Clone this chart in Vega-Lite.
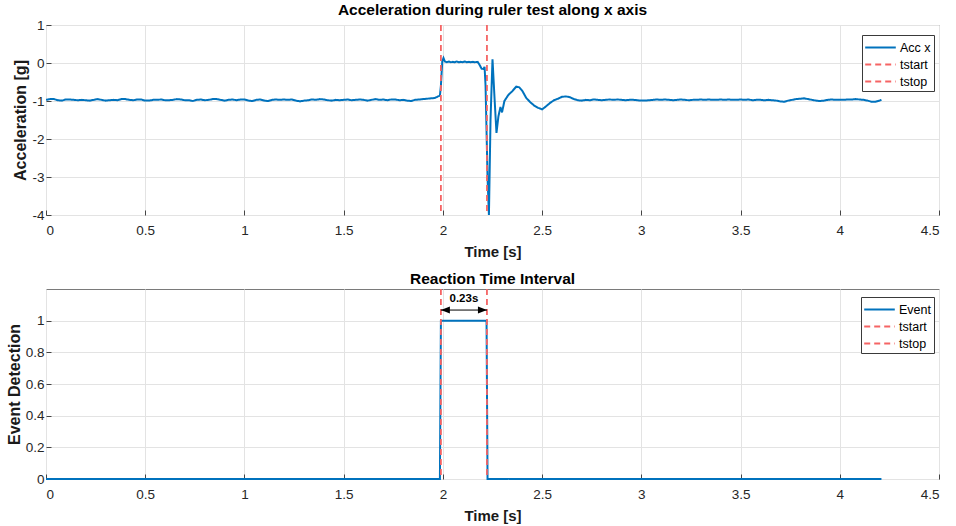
{
  "$schema": "https://vega.github.io/schema/vega-lite/v6.json",
  "background": "white",
  "padding": {"left": 5, "top": 2, "right": 15, "bottom": 5},
  "bounds": "flush",
  "spacing": 74,
  "config": {
    "font": "Liberation Sans",
    "view": {"stroke": "#7a7a7a", "strokeWidth": 1},
    "axis": {
      "labelFont": "Liberation Sans", "labelFontSize": 13.5, "labelColor": "#262626",
      "titleFont": "Liberation Sans", "titleFontWeight": "bold", "titleColor": "#1a1a1a",
      "gridColor": "#e3e3e3", "gridWidth": 1, "domain": false, "labelOverlap": false,
      "tickColor": "#444444", "tickSize": -5,
      "labelExpr": "replace(datum.label, '\u2212', '-')"
    },
    "axisX": {"titlePadding": 8, "labelPadding": 13, "titleFontSize": 15},
    "axisY": {"titlePadding": 3, "labelPadding": 7, "titleFontSize": 16},
    "title": {"font": "Liberation Sans", "fontSize": 15.5, "fontWeight": "bold", "color": "#000000", "offset": 1},
    "legend": {
      "labelFont": "Liberation Sans", "labelFontSize": 12.5, "labelColor": "#000000",
      "fillColor": "white", "strokeColor": "#3a3a3a", "padding": 3,
      "symbolType": "M-1.8,0H1.8", "symbolSize": 289, "symbolStrokeWidth": 2, "symbolOffset": 6, "labelOffset": 10, "rowPadding": 1
    }
  },
  "resolve": {"scale": {"color": "independent", "strokeDash": "independent"}},
  "vconcat": [
    {
      "width": 893, "height": 190,
      "title": {"text": "Acceleration during ruler test along x axis", "offset": 0},
      "layer": [
        {
          "data": {"values": [
            {"time":0.00,"acc":-0.97,"series":"Acc x"},{"time":0.02,"acc":-0.95,"series":"Acc x"},{"time":0.04,"acc":-0.95,"series":"Acc x"},{"time":0.06,"acc":-0.98,"series":"Acc x"},{"time":0.08,"acc":-0.99,"series":"Acc x"},{"time":0.10,"acc":-0.96,"series":"Acc x"},{"time":0.12,"acc":-0.96,"series":"Acc x"},{"time":0.14,"acc":-0.97,"series":"Acc x"},{"time":0.16,"acc":-0.98,"series":"Acc x"},{"time":0.18,"acc":-0.97,"series":"Acc x"},
            {"time":0.20,"acc":-0.98,"series":"Acc x"},{"time":0.22,"acc":-0.99,"series":"Acc x"},{"time":0.24,"acc":-0.97,"series":"Acc x"},{"time":0.26,"acc":-0.95,"series":"Acc x"},{"time":0.28,"acc":-0.97,"series":"Acc x"},{"time":0.30,"acc":-0.99,"series":"Acc x"},{"time":0.32,"acc":-0.98,"series":"Acc x"},{"time":0.34,"acc":-0.97,"series":"Acc x"},{"time":0.36,"acc":-0.98,"series":"Acc x"},{"time":0.38,"acc":-0.95,"series":"Acc x"},
            {"time":0.40,"acc":-0.95,"series":"Acc x"},{"time":0.42,"acc":-0.97,"series":"Acc x"},{"time":0.44,"acc":-0.98,"series":"Acc x"},{"time":0.46,"acc":-0.96,"series":"Acc x"},{"time":0.48,"acc":-0.96,"series":"Acc x"},{"time":0.50,"acc":-0.99,"series":"Acc x"},{"time":0.52,"acc":-0.99,"series":"Acc x"},{"time":0.54,"acc":-0.97,"series":"Acc x"},{"time":0.56,"acc":-0.97,"series":"Acc x"},{"time":0.58,"acc":-0.96,"series":"Acc x"},
            {"time":0.60,"acc":-0.98,"series":"Acc x"},{"time":0.62,"acc":-0.98,"series":"Acc x"},{"time":0.64,"acc":-0.97,"series":"Acc x"},{"time":0.66,"acc":-0.95,"series":"Acc x"},{"time":0.68,"acc":-0.96,"series":"Acc x"},{"time":0.70,"acc":-0.98,"series":"Acc x"},{"time":0.72,"acc":-0.98,"series":"Acc x"},{"time":0.74,"acc":-1.00,"series":"Acc x"},{"time":0.76,"acc":-0.97,"series":"Acc x"},{"time":0.78,"acc":-0.96,"series":"Acc x"},
            {"time":0.80,"acc":-0.98,"series":"Acc x"},{"time":0.82,"acc":-0.97,"series":"Acc x"},{"time":0.84,"acc":-0.95,"series":"Acc x"},{"time":0.86,"acc":-0.95,"series":"Acc x"},{"time":0.88,"acc":-0.97,"series":"Acc x"},{"time":0.90,"acc":-0.99,"series":"Acc x"},{"time":0.92,"acc":-0.97,"series":"Acc x"},{"time":0.94,"acc":-0.96,"series":"Acc x"},{"time":0.96,"acc":-0.98,"series":"Acc x"},{"time":0.98,"acc":-0.96,"series":"Acc x"},
            {"time":1.00,"acc":-0.96,"series":"Acc x"},{"time":1.02,"acc":-0.99,"series":"Acc x"},{"time":1.04,"acc":-1.00,"series":"Acc x"},{"time":1.06,"acc":-0.97,"series":"Acc x"},{"time":1.08,"acc":-0.96,"series":"Acc x"},{"time":1.10,"acc":-0.99,"series":"Acc x"},{"time":1.12,"acc":-1.00,"series":"Acc x"},{"time":1.14,"acc":-0.97,"series":"Acc x"},{"time":1.16,"acc":-0.96,"series":"Acc x"},{"time":1.18,"acc":-0.97,"series":"Acc x"},
            {"time":1.20,"acc":-0.96,"series":"Acc x"},{"time":1.22,"acc":-0.97,"series":"Acc x"},{"time":1.24,"acc":-0.96,"series":"Acc x"},{"time":1.26,"acc":-0.99,"series":"Acc x"},{"time":1.28,"acc":-1.01,"series":"Acc x"},{"time":1.30,"acc":-0.99,"series":"Acc x"},{"time":1.32,"acc":-0.98,"series":"Acc x"},{"time":1.34,"acc":-0.96,"series":"Acc x"},{"time":1.36,"acc":-0.97,"series":"Acc x"},{"time":1.38,"acc":-0.95,"series":"Acc x"},
            {"time":1.40,"acc":-0.96,"series":"Acc x"},{"time":1.42,"acc":-0.98,"series":"Acc x"},{"time":1.44,"acc":-0.99,"series":"Acc x"},{"time":1.46,"acc":-0.97,"series":"Acc x"},{"time":1.48,"acc":-0.98,"series":"Acc x"},{"time":1.50,"acc":-0.97,"series":"Acc x"},{"time":1.52,"acc":-0.96,"series":"Acc x"},{"time":1.54,"acc":-0.98,"series":"Acc x"},{"time":1.56,"acc":-0.97,"series":"Acc x"},{"time":1.58,"acc":-0.96,"series":"Acc x"},
            {"time":1.60,"acc":-0.97,"series":"Acc x"},{"time":1.62,"acc":-0.99,"series":"Acc x"},{"time":1.64,"acc":-0.97,"series":"Acc x"},{"time":1.66,"acc":-0.95,"series":"Acc x"},{"time":1.68,"acc":-0.97,"series":"Acc x"},{"time":1.70,"acc":-0.96,"series":"Acc x"},{"time":1.72,"acc":-0.98,"series":"Acc x"},{"time":1.74,"acc":-0.96,"series":"Acc x"},{"time":1.76,"acc":-0.96,"series":"Acc x"},{"time":1.78,"acc":-0.98,"series":"Acc x"},
            {"time":1.80,"acc":-0.97,"series":"Acc x"},{"time":1.82,"acc":-0.99,"series":"Acc x"},{"time":1.84,"acc":-1.00,"series":"Acc x"},{"time":1.86,"acc":-0.97,"series":"Acc x"},{"time":1.88,"acc":-0.96,"series":"Acc x"},{"time":1.90,"acc":-0.95,"series":"Acc x"},{"time":1.92,"acc":-0.94,"series":"Acc x"},{"time":1.94,"acc":-0.93,"series":"Acc x"},{"time":1.96,"acc":-0.92,"series":"Acc x"},{"time":1.975,"acc":-0.88,"series":"Acc x"},
            {"time":1.985,"acc":-0.86,"series":"Acc x"},{"time":1.99,"acc":-0.6,"series":"Acc x"},{"time":1.997,"acc":0.05,"series":"Acc x"},{"time":2.003,"acc":0.13,"series":"Acc x"},{"time":2.01,"acc":0.04,"series":"Acc x"},{"time":2.02,"acc":0.02,"series":"Acc x"},{"time":2.03,"acc":0.04,"series":"Acc x"},{"time":2.04,"acc":0.02,"series":"Acc x"},{"time":2.05,"acc":0.03,"series":"Acc x"},{"time":2.06,"acc":0.02,"series":"Acc x"},
            {"time":2.07,"acc":0.04,"series":"Acc x"},{"time":2.08,"acc":0.02,"series":"Acc x"},{"time":2.09,"acc":0.03,"series":"Acc x"},{"time":2.10,"acc":0.02,"series":"Acc x"},{"time":2.11,"acc":0.04,"series":"Acc x"},{"time":2.12,"acc":0.02,"series":"Acc x"},{"time":2.13,"acc":0.03,"series":"Acc x"},{"time":2.14,"acc":0.02,"series":"Acc x"},{"time":2.15,"acc":0.03,"series":"Acc x"},{"time":2.16,"acc":0.02,"series":"Acc x"},
            {"time":2.175,"acc":0.03,"series":"Acc x"},{"time":2.185,"acc":-0.05,"series":"Acc x"},{"time":2.195,"acc":-0.15,"series":"Acc x"},{"time":2.205,"acc":-0.16,"series":"Acc x"},{"time":2.21,"acc":-0.1,"series":"Acc x"},{"time":2.215,"acc":-0.6,"series":"Acc x"},{"time":2.225,"acc":-3.0,"series":"Acc x"},{"time":2.232,"acc":-4.0,"series":"Acc x"},{"time":2.24,"acc":-1.5,"series":"Acc x"},{"time":2.25,"acc":0.1,"series":"Acc x"},
            {"time":2.26,"acc":-0.9,"series":"Acc x"},{"time":2.27,"acc":-1.84,"series":"Acc x"},{"time":2.28,"acc":-1.4,"series":"Acc x"},{"time":2.29,"acc":-1.16,"series":"Acc x"},{"time":2.298,"acc":-1.3,"series":"Acc x"},{"time":2.31,"acc":-1.0,"series":"Acc x"},{"time":2.33,"acc":-0.84,"series":"Acc x"},{"time":2.35,"acc":-0.74,"series":"Acc x"},{"time":2.37,"acc":-0.62,"series":"Acc x"},{"time":2.385,"acc":-0.64,"series":"Acc x"},
            {"time":2.40,"acc":-0.73,"series":"Acc x"},{"time":2.42,"acc":-0.92,"series":"Acc x"},{"time":2.44,"acc":-1.03,"series":"Acc x"},{"time":2.46,"acc":-1.12,"series":"Acc x"},{"time":2.48,"acc":-1.18,"series":"Acc x"},{"time":2.50,"acc":-1.22,"series":"Acc x"},{"time":2.52,"acc":-1.14,"series":"Acc x"},{"time":2.54,"acc":-1.05,"series":"Acc x"},{"time":2.56,"acc":-0.98,"series":"Acc x"},{"time":2.58,"acc":-0.94,"series":"Acc x"},
            {"time":2.60,"acc":-0.89,"series":"Acc x"},{"time":2.62,"acc":-0.88,"series":"Acc x"},{"time":2.64,"acc":-0.90,"series":"Acc x"},{"time":2.66,"acc":-0.95,"series":"Acc x"},{"time":2.68,"acc":-0.98,"series":"Acc x"},{"time":2.70,"acc":-0.99,"series":"Acc x"},{"time":2.72,"acc":-0.97,"series":"Acc x"},{"time":2.74,"acc":-0.98,"series":"Acc x"},{"time":2.76,"acc":-0.96,"series":"Acc x"},{"time":2.78,"acc":-0.97,"series":"Acc x"},
            {"time":2.80,"acc":-0.98,"series":"Acc x"},{"time":2.82,"acc":-0.97,"series":"Acc x"},{"time":2.84,"acc":-0.96,"series":"Acc x"},{"time":2.86,"acc":-0.97,"series":"Acc x"},{"time":2.88,"acc":-0.96,"series":"Acc x"},{"time":2.90,"acc":-0.97,"series":"Acc x"},{"time":2.92,"acc":-0.98,"series":"Acc x"},{"time":2.94,"acc":-0.97,"series":"Acc x"},{"time":2.96,"acc":-0.97,"series":"Acc x"},{"time":2.98,"acc":-0.98,"series":"Acc x"},
            {"time":3.00,"acc":-0.99,"series":"Acc x"},{"time":3.02,"acc":-0.99,"series":"Acc x"},{"time":3.04,"acc":-0.98,"series":"Acc x"},{"time":3.06,"acc":-0.97,"series":"Acc x"},{"time":3.08,"acc":-0.96,"series":"Acc x"},{"time":3.10,"acc":-0.97,"series":"Acc x"},{"time":3.12,"acc":-0.96,"series":"Acc x"},{"time":3.14,"acc":-0.97,"series":"Acc x"},{"time":3.16,"acc":-0.98,"series":"Acc x"},{"time":3.18,"acc":-0.97,"series":"Acc x"},
            {"time":3.20,"acc":-0.96,"series":"Acc x"},{"time":3.22,"acc":-0.97,"series":"Acc x"},{"time":3.24,"acc":-0.98,"series":"Acc x"},{"time":3.26,"acc":-0.97,"series":"Acc x"},{"time":3.28,"acc":-0.97,"series":"Acc x"},{"time":3.30,"acc":-0.96,"series":"Acc x"},{"time":3.32,"acc":-0.97,"series":"Acc x"},{"time":3.34,"acc":-0.96,"series":"Acc x"},{"time":3.36,"acc":-0.97,"series":"Acc x"},{"time":3.38,"acc":-0.97,"series":"Acc x"},
            {"time":3.40,"acc":-0.96,"series":"Acc x"},{"time":3.42,"acc":-0.97,"series":"Acc x"},{"time":3.44,"acc":-0.96,"series":"Acc x"},{"time":3.46,"acc":-0.97,"series":"Acc x"},{"time":3.48,"acc":-0.97,"series":"Acc x"},{"time":3.50,"acc":-0.96,"series":"Acc x"},{"time":3.52,"acc":-0.97,"series":"Acc x"},{"time":3.54,"acc":-0.96,"series":"Acc x"},{"time":3.56,"acc":-0.98,"series":"Acc x"},{"time":3.58,"acc":-0.97,"series":"Acc x"},
            {"time":3.60,"acc":-0.97,"series":"Acc x"},{"time":3.62,"acc":-0.98,"series":"Acc x"},{"time":3.64,"acc":-0.97,"series":"Acc x"},{"time":3.66,"acc":-0.98,"series":"Acc x"},{"time":3.68,"acc":-0.99,"series":"Acc x"},{"time":3.70,"acc":-1.01,"series":"Acc x"},{"time":3.72,"acc":-1.02,"series":"Acc x"},{"time":3.74,"acc":-0.99,"series":"Acc x"},{"time":3.76,"acc":-0.97,"series":"Acc x"},{"time":3.78,"acc":-0.95,"series":"Acc x"},
            {"time":3.80,"acc":-0.94,"series":"Acc x"},{"time":3.82,"acc":-0.93,"series":"Acc x"},{"time":3.84,"acc":-0.95,"series":"Acc x"},{"time":3.86,"acc":-0.97,"series":"Acc x"},{"time":3.88,"acc":-0.99,"series":"Acc x"},{"time":3.90,"acc":-1.00,"series":"Acc x"},{"time":3.92,"acc":-0.99,"series":"Acc x"},{"time":3.94,"acc":-0.97,"series":"Acc x"},{"time":3.96,"acc":-0.96,"series":"Acc x"},{"time":3.98,"acc":-0.97,"series":"Acc x"},
            {"time":4.00,"acc":-0.97,"series":"Acc x"},{"time":4.02,"acc":-0.97,"series":"Acc x"},{"time":4.04,"acc":-0.96,"series":"Acc x"},{"time":4.06,"acc":-0.96,"series":"Acc x"},{"time":4.08,"acc":-0.95,"series":"Acc x"},{"time":4.10,"acc":-0.96,"series":"Acc x"},{"time":4.12,"acc":-0.97,"series":"Acc x"},{"time":4.14,"acc":-0.99,"series":"Acc x"},{"time":4.16,"acc":-1.02,"series":"Acc x"},{"time":4.18,"acc":-1.02,"series":"Acc x"},
            {"time":4.20,"acc":-0.99,"series":"Acc x"},{"time":4.21,"acc":-0.97,"series":"Acc x"}
          ]},
          "mark": {"type": "line", "strokeWidth": 2, "clip": true},
          "encoding": {
            "x": {"field": "time", "type": "quantitative", "scale": {"domain": [0, 4.5], "nice": false}, "axis": {"title": "Time [s]", "values": [0,0.5,1,1.5,2,2.5,3,3.5,4,4.5], "format": "~g"}},
            "y": {"field": "acc", "type": "quantitative", "scale": {"domain": [-4, 1], "nice": false}, "axis": {"title": "Acceleration [g]", "values": [-4,-3,-2,-1,0,1]}},
            "color": {"field": "series", "type": "nominal", "scale": {"domain": ["Acc x","tstart","tstop"], "range": ["#0072BD","#f56464","#f56464"]}, "legend": {"title": null, "orient": "none", "legendX": 816, "legendY": 10}},
            "strokeDash": {"field": "series", "type": "nominal", "scale": {"domain": ["Acc x","tstart","tstop"], "range": [[1,0],[6,4],[6,4]]}, "legend": {"title": null, "orient": "none", "legendX": 816, "legendY": 10}}
          }
        },
        {
          "data": {"values": [{"time": 1.99, "series": "tstart"}, {"time": 2.222, "series": "tstop"}]},
          "mark": {"type": "rule", "strokeWidth": 1.8},
          "encoding": {
            "x": {"field": "time", "type": "quantitative"},
            "color": {"field": "series", "type": "nominal"},
            "strokeDash": {"field": "series", "type": "nominal"}
          }
        }
      ]
    },
    {
      "width": 893, "height": 190,
      "title": {"text": "Reaction Time Interval", "offset": 1},
      "layer": [
        {
          "data": {"values": [
            {"time": 0, "event": 0, "series": "Event"},
            {"time": 1.985, "event": 0, "series": "Event"},
            {"time": 1.99, "event": 1, "series": "Event"},
            {"time": 2.22, "event": 1, "series": "Event"},
            {"time": 2.225, "event": 0, "series": "Event"},
            {"time": 4.21, "event": 0, "series": "Event"}
          ]},
          "mark": {"type": "line", "strokeWidth": 2, "clip": false},
          "encoding": {
            "x": {"field": "time", "type": "quantitative", "scale": {"domain": [0, 4.5], "nice": false}, "axis": {"title": "Time [s]", "values": [0,0.5,1,1.5,2,2.5,3,3.5,4,4.5], "format": "~g"}},
            "y": {"field": "event", "type": "quantitative", "scale": {"domain": [0, 1.2], "nice": false}, "axis": {"title": "Event Detection", "values": [0,0.2,0.4,0.6,0.8,1], "format": "~g"}},
            "color": {"field": "series", "type": "nominal", "scale": {"domain": ["Event","tstart","tstop"], "range": ["#0072BD","#f56464","#f56464"]}, "legend": {"title": null, "orient": "none", "legendX": 815, "legendY": 8}},
            "strokeDash": {"field": "series", "type": "nominal", "scale": {"domain": ["Event","tstart","tstop"], "range": [[1,0],[6,4],[6,4]]}, "legend": {"title": null, "orient": "none", "legendX": 815, "legendY": 8}}
          }
        },
        {
          "data": {"values": [{"time": 1.99, "series": "tstart"}, {"time": 2.222, "series": "tstop"}]},
          "mark": {"type": "rule", "strokeWidth": 1.8},
          "encoding": {
            "x": {"field": "time", "type": "quantitative"},
            "color": {"field": "series", "type": "nominal"},
            "strokeDash": {"field": "series", "type": "nominal"}
          }
        },
        {
          "data": {"name": "annot", "values": [{"t1": 1.99, "t2": 2.222, "tmid": 2.106, "yarrow": 1.067, "ytext": 1.135, "label": "0.23s"}]},
          "layer": [
            {"mark": {"type": "rule", "color": "black", "strokeWidth": 1}, "encoding": {"x": {"field": "t1", "type": "quantitative"}, "x2": {"field": "t2"}, "y": {"field": "yarrow", "type": "quantitative", "axis": {"title": "Event Detection", "values": [0,0.2,0.4,0.6,0.8,1], "format": "~g"}}}},
            {"mark": {"type": "point", "shape": "M0,0L1.8,-0.7L1.8,0.7Z", "filled": true, "color": "black", "opacity": 1, "size": 100}, "encoding": {"x": {"field": "t1", "type": "quantitative"}, "y": {"field": "yarrow", "type": "quantitative", "axis": {"title": "Event Detection", "values": [0,0.2,0.4,0.6,0.8,1], "format": "~g"}}}},
            {"mark": {"type": "point", "shape": "M0,0L-1.8,-0.7L-1.8,0.7Z", "filled": true, "color": "black", "opacity": 1, "size": 100}, "encoding": {"x": {"field": "t2", "type": "quantitative"}, "y": {"field": "yarrow", "type": "quantitative", "axis": {"title": "Event Detection", "values": [0,0.2,0.4,0.6,0.8,1], "format": "~g"}}}},
            {"mark": {"type": "text", "font": "Liberation Sans", "fontSize": 11.5, "fontWeight": "bold", "color": "black"}, "encoding": {"x": {"field": "tmid", "type": "quantitative"}, "y": {"field": "ytext", "type": "quantitative", "axis": {"title": "Event Detection", "values": [0,0.2,0.4,0.6,0.8,1], "format": "~g"}}, "text": {"field": "label"}}}
          ]
        }
      ]
    }
  ]
}
